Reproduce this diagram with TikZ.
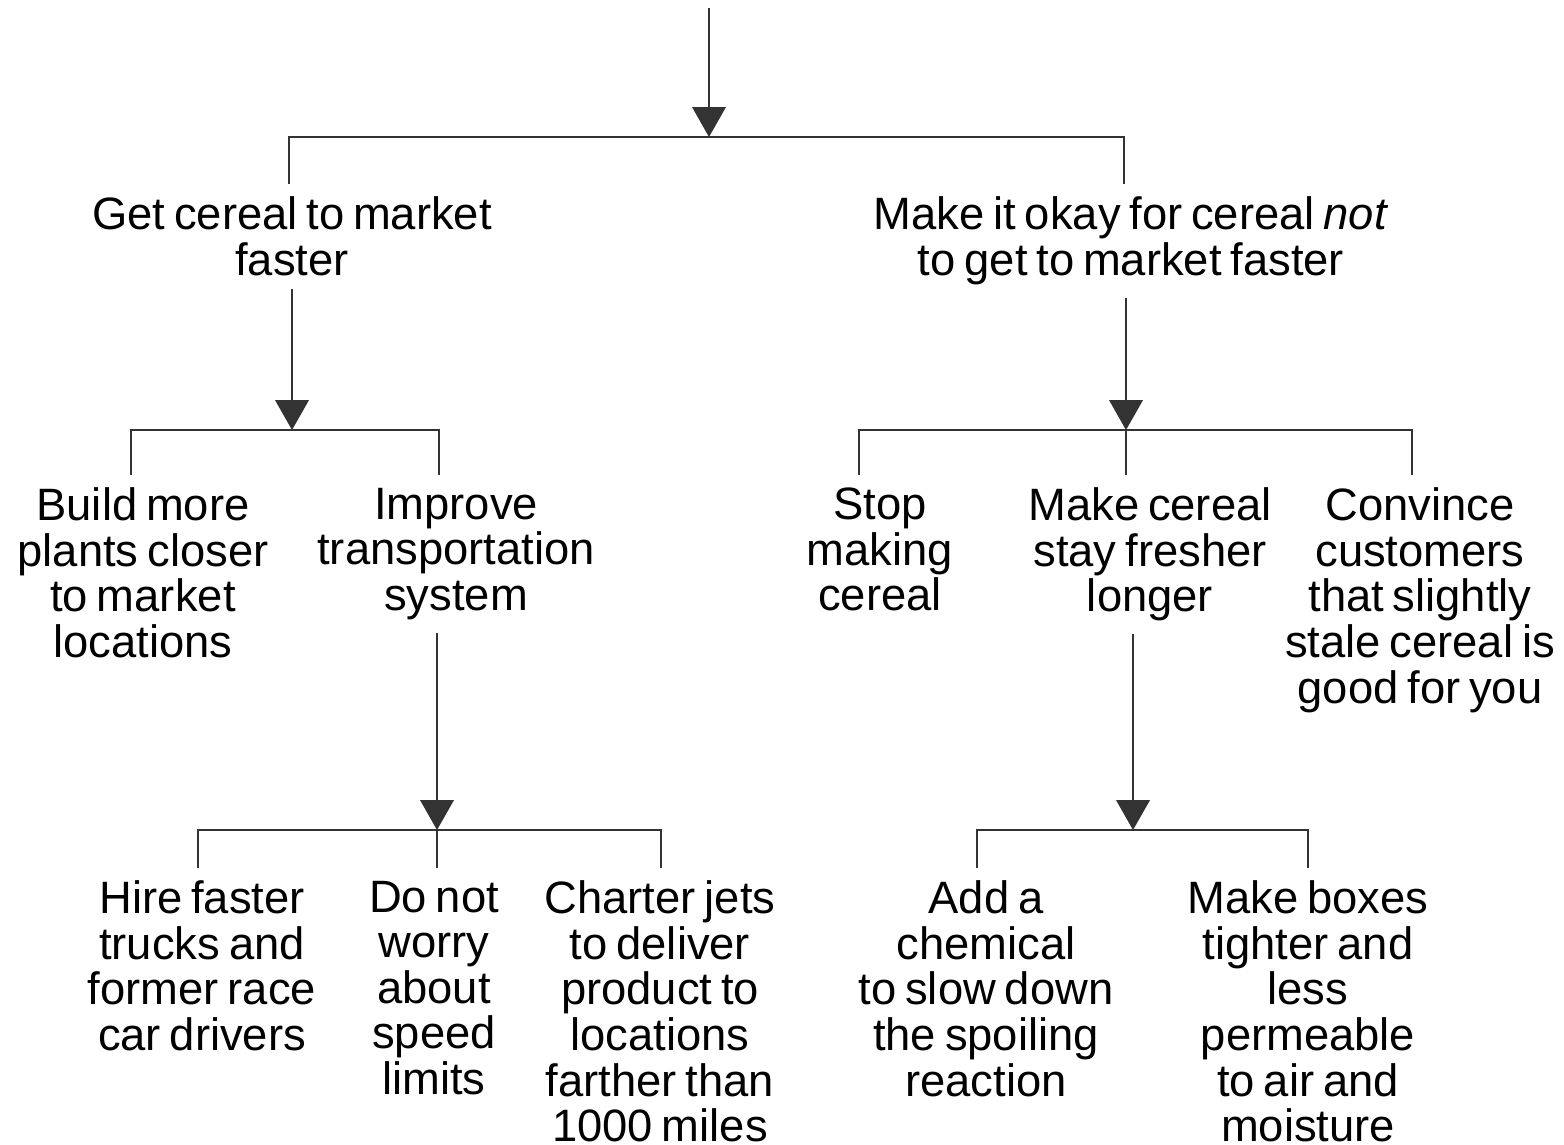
\documentclass[tikz,border=0pt]{standalone}
\usepackage{fontspec}
\setmainfont{Liberation Sans}[WordSpace=0.7]
\usetikzlibrary{arrows.meta}
\begin{document}
\begin{tikzpicture}[x=0.01cm,y=-0.01cm,
    idea/.style={anchor=north,align=center,inner xsep=0pt,inner ysep=3.5pt,
                 font=\fontsize{12.9}{12.95}\selectfont},
    link/.style={draw=black!80,line width=0.6pt},
    push/.style={link,-{Triangle[width=9.5pt,length=8.5pt]}}]
    \useasboundingbox (0,0) rectangle (1564,1144);

    \node[idea] (get) at (292,184) {Get cereal to market\\faster};
    \node[idea] (okay) at (1131,184) {Make it okay for cereal \textit{not}\\to get to market faster};

    \node[idea] (build) at (143,475) {Build more\\plants closer\\to market\\locations};
    \node[idea] (improve) at (456,475) {Improve\\transportation\\system};
    \node[idea] (stop) at (880,475) {Stop\\making\\cereal};
    \node[idea] (fresher) at (1150,475) {Make cereal\\stay fresher\\longer};
    \node[idea] (convince) at (1420,475) {Convince\\customers\\that slightly\\stale cereal is\\good for you};

    \node[idea] (hire) at (202,868) {Hire faster\\trucks and\\former race\\car drivers};
    \node[idea] (worry) at (434,868) {Do not\\worry\\about\\speed\\limits};
    \node[idea] (charter) at (660,868) {Charter jets\\to deliver\\product to\\locations\\farther than\\1000 miles};
    \node[idea] (chemical) at (986,868) {Add a\\chemical\\to slow down\\the spoiling\\reaction};
    \node[idea] (boxes) at (1308,868) {Make boxes\\tighter and\\less\\permeable\\to air and\\moisture};

    \coordinate (top) at (709,8);
    \coordinate (j0) at (709,137);
    \coordinate (b0l) at (289,137);
    \coordinate (b0r) at (1124,137);
    \coordinate (j1) at (292,430);
    \coordinate (b1l) at (131,430);
    \coordinate (b1r) at (439,430);
    \coordinate (j2) at (1126,430);
    \coordinate (b2l) at (859,430);
    \coordinate (b2r) at (1412,430);
    \coordinate (j3) at (437,830);
    \coordinate (b3l) at (198,830);
    \coordinate (b3r) at (661,830);
    \coordinate (j4) at (1133,830);
    \coordinate (b4l) at (977,830);
    \coordinate (b4r) at (1308,830);

    \draw[push] (top) -- (j0);
    \draw[link] (b0l |- get.north) -- (b0l) -- (b0r) -- (b0r |- okay.north);

    \draw[push] (j1 |- get.south) -- (j1);
    \draw[link] (b1l |- build.north) -- (b1l) -- (b1r) -- (b1r |- improve.north);

    \draw[push] (j2 |- okay.south) -- (j2);
    \draw[link] (b2l |- stop.north) -- (b2l) -- (b2r) -- (b2r |- convince.north);
    \draw[link] (j2) -- (j2 |- fresher.north);

    \draw[push] (j3 |- improve.south) -- (j3);
    \draw[link] (b3l |- hire.north) -- (b3l) -- (b3r) -- (b3r |- charter.north);
    \draw[link] (j3) -- (j3 |- worry.north);

    \draw[push] (j4 |- fresher.south) -- (j4);
    \draw[link] (b4l |- chemical.north) -- (b4l) -- (b4r) -- (b4r |- boxes.north);
  \end{tikzpicture}
\end{document}
